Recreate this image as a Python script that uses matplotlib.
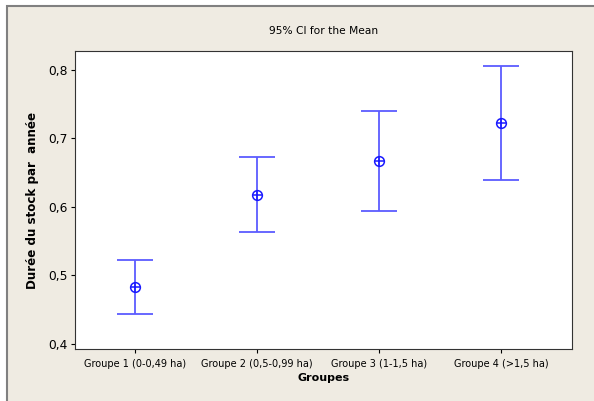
import numpy as np
import matplotlib.pyplot as plt
from matplotlib.patches import Rectangle

groups = ["Groupe 1 (0-0,49 ha)", "Groupe 2 (0,5-0,99 ha)",
          "Groupe 3 (1-1,5 ha)", "Groupe 4 (>1,5 ha)"]
means = [0.483, 0.6175, 0.667, 0.7226]
upper = [0.5226, 0.673, 0.740, 0.806]
lower = [0.4438, 0.5635, 0.594, 0.6394]
yticks = [0.4, 0.5, 0.6, 0.7, 0.8]
ytick_labels = ["0,4", "0,5", "0,6", "0,7", "0,8"]

plt.rcParams['font.family'] = ['DejaVu Sans']

fig = plt.figure(figsize=(5.94, 4.01), dpi=100, facecolor='white')
bg = Rectangle((6.5 / 594, -0.05), 1.2, 1.05 - 6.5 / 401, transform=fig.transFigure,
               facecolor='#efebe2', edgecolor='#808080', linewidth=1.5, zorder=-10)
fig.patches.append(bg)

ax = fig.add_axes([75 / 594, 1 - 349 / 401, 497 / 594, 298 / 401])
ax.set_facecolor('white')

x = np.arange(1, len(groups) + 1)
m = np.array(means)
yerr = [m - np.array(lower), np.array(upper) - m]
ax.errorbar(x, m, yerr=yerr, fmt='none', ecolor='#5c5cff', elinewidth=1.3,
            capsize=13, capthick=1.3)
ax.plot(x, m, 'o', mfc='none', mec='#1a1aff', ms=7, mew=1.1)
ax.plot(x, m, '+', color='#1a1aff', ms=7, mew=1.1)

ax.set_xlim(0.508, 4.58)
ax.set_ylim(0.3927, 0.8277)
ax.set_xticks(x)
ax.set_xticklabels(groups, fontsize=7)
ax.set_yticks(yticks)
ax.set_yticklabels(ytick_labels, fontsize=8.8)
ax.tick_params(length=3, width=0.8, pad=2)
ax.tick_params(axis='x', pad=4)
for s in ax.spines.values():
    s.set_linewidth(0.8)
    s.set_color('#333333')

ax.set_xlabel("Groupes", fontsize=8, fontweight='bold', labelpad=3)
ax.set_ylabel("Durée du stock par  année", fontsize=8.6, fontweight='bold', labelpad=7)
fig.text(0.5 * (75 + 572) / 594, 1 - 31 / 401, "95% CI for the Mean",
         ha='center', va='center', fontsize=7.7)

fig.savefig("out.png", dpi=100, facecolor=fig.get_facecolor())
